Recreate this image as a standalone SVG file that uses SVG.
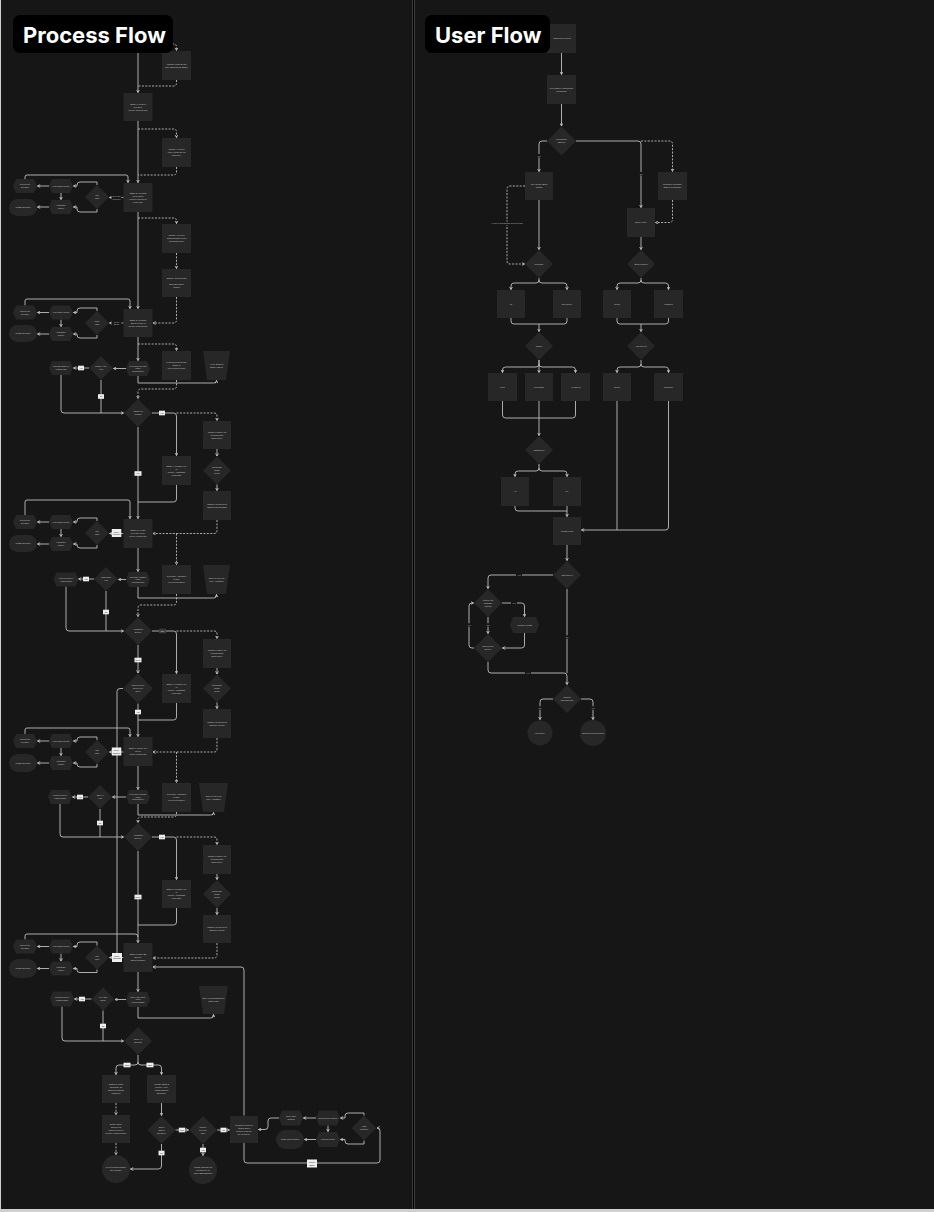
<svg xmlns="http://www.w3.org/2000/svg" width="934" height="1212" viewBox="0 0 934 1212">
<style>
.n{fill:#272727}
.t{font-family:"Liberation Sans",Arial,sans-serif;font-size:2.2px;fill:#c9c9c9;text-anchor:middle}
.s{font-size:1.9px}
.c{fill:none;stroke:#bdbdbd;stroke-width:0.9;marker-end:url(#a)}
.m0{marker-end:none}
.d{stroke-dasharray:2 1.4}
.lb{fill:#eeeeee}
.lt{font-family:"Liberation Sans",Arial,sans-serif;font-size:2px;fill:#111;text-anchor:middle}
.pl{font-family:"Liberation Sans",Arial,sans-serif;font-size:2.1px;fill:#bdbdbd;text-anchor:middle}
.pb{fill:#161616}
.ttl{font-family:Inter,"Liberation Sans",Arial,sans-serif;font-weight:700;font-size:22px;fill:#ffffff}
</style>
<defs>
<marker id="a" viewBox="0 0 6 6" refX="5" refY="3" markerWidth="3.6" markerHeight="3.6" orient="auto" markerUnits="userSpaceOnUse">
<path d="M0.5,0.6 L5,3 L0.5,5.4" fill="none" stroke="#d0d0d0" stroke-width="1.3"/>
</marker>
</defs>
<rect x="0" y="0" width="934" height="1212" fill="#cfcfcf"/>
<rect x="1" y="0" width="411.5" height="1209" fill="#161616"/>
<rect x="412.5" y="0" width="2" height="1209" fill="#000"/>
<rect x="414.5" y="0" width="519.5" height="1209" fill="#161616"/>

<g id="connectors">
<path class="c" d="M138,30 V92.5"/>
<path class="c d" d="M138,44 H173.5 Q176.5,44 176.5,47 V50.5"/>
<path class="c d m0" d="M176.5,80 V83 Q176.5,86 173.5,86 H138"/>
<path class="c" d="M138,121 V182.5"/>
<path class="c d" d="M138,129 H173.5 Q176.5,129 176.5,132 V137.5"/>
<path class="c d m0" d="M176.5,167 V172 Q176.5,175 173.5,175 H138"/>
<path class="c" d="M123.5,197.5 H109.5"/>
<path class="c" d="M97,185 V182 H80 Q77,182 77,185 V186 H73.5"/>
<path class="c" d="M49,186 H37.5"/>
<path class="c" d="M61,193 V199.5"/>
<path class="c" d="M49,207 H37.5"/>
<path class="c" d="M97,209 V212 H80 Q77,212 77,209 V207 H73.5"/>
<path class="c" d="M25,179 V177 Q25,175 27,175 H126 Q128,175 128,177 V182.5"/>
<path class="c" d="M138,212 V308.5"/>
<path class="c d" d="M138,218 H173.5 Q176.5,218 176.5,221 V223.5"/>
<path class="c d" d="M176.5,253 V268.5"/>
<path class="c d" d="M176.5,297 V320 Q176.5,323 173.5,323 H153"/>
<path class="c" d="M123.5,323 H109.5"/>
<path class="c" d="M97,311 V308 H80 Q77,308 77,311 V312.5 H73.5"/>
<path class="c" d="M49,312.5 H37.5"/>
<path class="c" d="M61,319.5 V326.5"/>
<path class="c" d="M49,334 H37.5"/>
<path class="c" d="M97,335 V338 H80 Q77,338 77,335 V334 H73.5"/>
<path class="c" d="M25,305.5 V301 Q25,299 27,299 H128 Q130,299 130,301 V308.5"/>
<path class="c" d="M138,337 V360.5"/>
<path class="c d" d="M138,344 H173.5 Q176.5,344 176.5,347 V350.5"/>
<path class="c" d="M138,376 V383 H213.5 Q216.5,383 216.5,381.5 V380.5"/>
<path class="c d" d="M176.5,380 V386 Q176.5,389 173.5,389 H141 Q138,389 138,392 V398.5"/>
<path class="c" d="M126,368.5 H113.5"/>
<path class="c" d="M89,368 H73.5"/>
<path class="c m0" d="M101,380 V413"/>
<path class="c" d="M61,375 V410 Q61,413 64,413 H123.5"/>
<path class="c" d="M152,413 H173.5 Q176.5,413 176.5,416 V455.5"/>
<path class="c d" d="M176.5,413 H214 Q217,413 217,416 V420.5"/>
<path class="c" d="M217,449 V456"/>
<path class="c" d="M217,484.5 V490.5"/>
<path class="c d" d="M217,520 V530.5 Q217,533.5 214,533.5 H153"/>
<path class="c d" d="M176.5,533.5 V564.5"/>
<path class="c m0" d="M176.5,485 V499 Q176.5,502 173.5,502 H138"/>
<path class="c" d="M138,427 V518.5"/>
<path class="c" d="M123.5,533.5 H109.5"/>
<path class="c" d="M97,521 V518 H80 Q77,518 77,521 V522 H73.5"/>
<path class="c" d="M49,522 H37.5"/>
<path class="c" d="M61,529 V536.5"/>
<path class="c" d="M49,544 H37.5"/>
<path class="c" d="M97,545 V548 H80 Q77,548 77,545 V544 H73.5"/>
<path class="c" d="M25,515 V502 Q25,500 27,500 H128 Q130,500 130,502 V518.5"/>
<path class="c" d="M138,548 V571.5"/>
<path class="c" d="M126,579.5 H118.5"/>
<path class="c" d="M94,579 H78.5"/>
<path class="c m0" d="M106,591 V631"/>
<path class="c" d="M66,586.5 V628 Q66,631 69,631 H123.5"/>
<path class="c" d="M138,587 V598 H213.5 Q216.5,598 216.5,596 V594.5"/>
<path class="c d" d="M176.5,594 V602 Q176.5,605 173.5,605 H141 Q138,605 138,608 V616.5"/>
<path class="c" d="M152,631 H173.5 Q176.5,631 176.5,634 V673.5"/>
<path class="c d" d="M176.5,631 H214 Q217,631 217,634 V638.5"/>
<path class="c" d="M217,668 V674"/>
<path class="c" d="M217,702.5 V708.5"/>
<path class="c d" d="M217,738 V749 Q217,752 214,752 H153"/>
<path class="c d" d="M176.5,752 V782.5"/>
<path class="c m0" d="M176.5,703 V717 Q176.5,720 173.5,720 H138"/>
<path class="c" d="M138,645 V673"/>
<path class="c" d="M138,703.5 V736.5"/>
<path class="c m0" d="M123,688.5 H120 Q117,688.5 117,691.5 V953"/>
<path class="c" d="M123.5,752 H109.5"/>
<path class="c" d="M97,740 V737 H80 Q77,737 77,740 V741 H73.5"/>
<path class="c" d="M49,741 H37.5"/>
<path class="c" d="M61,748 V755.5"/>
<path class="c" d="M49,763 H37.5"/>
<path class="c" d="M97,764 V767 H80 Q77,767 77,764 V763 H73.5"/>
<path class="c" d="M25,734 V730 Q25,728 27,728 H128 Q130,728 130,730 V736.5"/>
<path class="c" d="M138,766 V789.5"/>
<path class="c" d="M126,797 H112.5"/>
<path class="c" d="M88,797 H72.5"/>
<path class="c m0" d="M100,809 V837"/>
<path class="c" d="M60,804 V834 Q60,837 63,837 H123.5"/>
<path class="c" d="M138,804 V815 H210.5 Q213.5,815 213.5,813.5 V812.5"/>
<path class="c d" d="M176.5,812 V814 Q176.5,817 173.5,817 H141 Q138,817 138,819.5 V822.5"/>
<path class="c" d="M152,837 H173.5 Q176.5,837 176.5,840 V879.5"/>
<path class="c d" d="M176.5,837 H214 Q217,837 217,840 V844.5"/>
<path class="c" d="M217,874 V879.5"/>
<path class="c" d="M217,908 V914.5"/>
<path class="c d" d="M217,943 V955 Q217,958 214,958 H153"/>
<path class="c m0" d="M176.5,908 V922 Q176.5,925 173.5,925 H138"/>
<path class="c" d="M138,851 V942.5"/>
<path class="c" d="M123.5,957.5 H109.5"/>
<path class="c" d="M97,945.5 V942 H80 Q77,942 77,945 V946.5 H73.5"/>
<path class="c" d="M49,946.5 H37.5"/>
<path class="c" d="M61,953.5 V961"/>
<path class="c" d="M49,968.5 H37.5"/>
<path class="c" d="M97,969.5 V972.5 H80 Q77,972.5 77,970 V968.5 H73.5"/>
<path class="c m0" d="M25,939.5 V936 Q25,934 27,934 H135 Q138,934 138,937"/>
<path class="c" d="M244,1115.5 V970 Q244,967 241,967 H153"/>
<path class="c" d="M138,972 V991.5"/>
<path class="c" d="M126,999.5 H115"/>
<path class="c" d="M91.5,999 H74.5"/>
<path class="c m0" d="M103,1010.5 V1041"/>
<path class="c" d="M62,1006.5 V1038 Q62,1041 65,1041 H123.5"/>
<path class="c" d="M138,1007 V1018 H210.5 Q213.5,1018 213.5,1016 V1014.5"/>
<path class="c" d="M138,1055 V1062 Q138,1065 135,1065 H119 Q116,1065 116,1068 V1074.5"/>
<path class="c" d="M138,1062 Q138,1065 141,1065 H158.5 Q161.5,1065 161.5,1068 V1074.5"/>
<path class="c d" d="M116,1103 V1114.5"/>
<path class="c d" d="M116,1143 V1154.5"/>
<path class="c" d="M161.5,1103 V1115.5"/>
<path class="c" d="M161.5,1144 V1166 Q161.5,1169 158.5,1169 H130.5"/>
<path class="c" d="M175.5,1130 H188.5"/>
<path class="c" d="M203,1144 V1155.5"/>
<path class="c" d="M217,1130 H229.5"/>
<path class="c" d="M244,1143 V1160 Q244,1163 247,1163 H377 Q380,1163 380,1160 V1131 Q380,1128 377.5,1128 H377"/>
<path class="c" d="M364,1115.5 V1113 H348 Q345,1113 345,1116 V1118 H340.5"/>
<path class="c" d="M364,1140.5 V1144 H348 Q345,1144 345,1141 V1139.5 H340.5"/>
<path class="c" d="M328,1125.5 V1131.5"/>
<path class="c" d="M316,1118 H303.5"/>
<path class="c" d="M316,1139.5 H304.5"/>
<path class="c" d="M279,1118 H271 Q268,1118 268,1121 V1126.5 Q268,1129.5 265,1129.5 H258.5"/>

<path class="c" d="M561.5,53 V74.5"/>
<path class="c" d="M561.5,104 V126"/>
<path class="c" d="M547,141 H542 Q539,141 539,144 V171.5"/>
<path class="c" d="M576,141 H638 Q641,141 641,144 V207.5"/>
<path class="c d" d="M641,141 H669.5 Q672.5,141 672.5,144 V171.5"/>
<path class="c d" d="M672.5,200 V219.5 Q672.5,222.5 669.5,222.5 H655.5"/>
<path class="c d" d="M525,186 H510 Q507,186 507,189 V261 Q507,264 510,264 H524.5"/>
<path class="c" d="M539,200 V249.5"/>
<path class="c" d="M641,237 V249.5"/>
<path class="c" d="M539,278 V280 Q539,283 536,283 H514 Q511,283 511,286 V289.5"/>
<path class="c" d="M539,280 Q539,283 542,283 H564 Q567,283 567,286 V289.5"/>
<path class="c" d="M641,278 V280 Q641,283 638,283 H620 Q617,283 617,286 V289.5"/>
<path class="c" d="M641,280 Q641,283 644,283 H665.5 Q668.5,283 668.5,286 V289.5"/>
<path class="c m0" d="M511,318 V321 Q511,324 514,324 H564 Q567,324 567,321 V318"/>
<path class="c" d="M539,324 V331.5"/>
<path class="c m0" d="M617,318 V321 Q617,324 620,324 H665.5 Q668.5,324 668.5,321 V318"/>
<path class="c" d="M641,324 V331.5"/>
<path class="c" d="M539,360 V364 Q539,367 536,367 H505.5 Q502.5,367 502.5,370 V372.5"/>
<path class="c" d="M539,360 V372.5"/>
<path class="c" d="M539,364 Q539,367 542,367 H572.5 Q575.5,367 575.5,370 V372.5"/>
<path class="c" d="M641,360 V364 Q641,367 638,367 H620 Q617,367 617,370 V372.5"/>
<path class="c" d="M641,364 Q641,367 644,367 H665.5 Q668.5,367 668.5,370 V372.5"/>
<path class="c m0" d="M502.5,401 V415 Q502.5,418 505.5,418 H572.5 Q575.5,418 575.5,415 V401"/>
<path class="c" d="M539,401 V435.5"/>
<path class="c" d="M539,464 V468 Q539,471 536,471 H518 Q515,471 515,474 V476.5"/>
<path class="c" d="M539,468 Q539,471 542,471 H564 Q567,471 567,474 V476.5"/>
<path class="c m0" d="M515,506 V508 Q515,511 518,511 H567"/>
<path class="c" d="M567,506 V516.5"/>
<path class="c m0" d="M617,401 V530"/>
<path class="c" d="M668.5,401 V527 Q668.5,530 665.5,530 H581.5"/>
<path class="c" d="M567,545 V560.5"/>
<path class="c" d="M553,575 H491 Q488,575 488,578 V588.5"/>
<path class="c" d="M502,603 H521.5 Q524.5,603 524.5,606 V616.5"/>
<path class="c" d="M488,617 V633.5"/>
<path class="c" d="M524.5,633 V645 Q524.5,648 521.5,648 H502.5"/>
<path class="c" d="M474,648 H472 Q469,648 469,645 V606 Q469,603 472,603 H473.5"/>
<path class="c" d="M488,662 V670 Q488,673 491,673 H564 Q567,673 567,676 V684.5"/>
<path class="c m0" d="M567,589 V673"/>
<path class="c" d="M553,699 H543 Q540,699 540,702 V719.5"/>
<path class="c" d="M581,699 H590 Q593,699 593,702 V719.5"/>

<g id="connector-labels">
<rect class="pb" x="111.5" y="194.2" width="10" height="6.6"/>
<text class="pl" x="116.5" y="197"><tspan x="116.5">Retry Err</tspan><tspan x="116.5" dy="2.6">Success</tspan></text>
<rect class="pb" x="111.5" y="319.8" width="10" height="6.6"/>
<text class="pl" x="116.5" y="322.6"><tspan x="116.5">Retry</tspan><tspan x="116.5" dy="2.6">Errors</tspan></text>
<rect class="lb" x="78" y="365.7" width="6" height="4.6"/><text class="lt" x="81" y="368.7">Yes</text>
<rect class="lb" x="98" y="394.2" width="6" height="4.6"/><text class="lt" x="101" y="397.2">No</text>
<rect class="lb" x="159" y="410.7" width="6" height="4.6"/><text class="lt" x="162" y="413.7">Yes</text>
<rect class="lb" x="134.5" y="471.2" width="7" height="4.6"/><text class="lt" x="138" y="474.2">Fail</text>
<rect class="lb" x="111.8" y="529" width="9.5" height="8"/><text class="lt" x="116.5" y="532.5"><tspan x="116.5">Retry/</tspan><tspan x="116.5" dy="2.5">Resolve</tspan></text>
<rect class="lb" x="83" y="576.7" width="6" height="4.6"/><text class="lt" x="86" y="579.7">Yes</text>
<rect class="lb" x="103" y="609.7" width="6" height="4.6"/><text class="lt" x="106" y="612.7">No</text>
<rect x="159" y="628.7" width="7" height="4.6" fill="#3c3c3c"/><text class="lt" x="162.5" y="631.7" style="fill:#dddddd">Edit</text>
<rect class="lb" x="134.5" y="657.7" width="7" height="4.6"/><text class="lt" x="138" y="660.7">Done</text>
<rect class="lb" x="135" y="709.7" width="6" height="4.6"/><text class="lt" x="138" y="712.7">Yes</text>
<rect class="lb" x="111.8" y="747.5" width="9.5" height="8"/><text class="lt" x="116.5" y="751"><tspan x="116.5">Retry/</tspan><tspan x="116.5" dy="2.5">Resolve</tspan></text>
<rect class="lb" x="77" y="794.7" width="6" height="4.6"/><text class="lt" x="80" y="797.7">Yes</text>
<rect class="lb" x="97" y="820.7" width="6" height="4.6"/><text class="lt" x="100" y="823.7">No</text>
<rect class="lb" x="159" y="834.7" width="6" height="4.6"/><text class="lt" x="162" y="837.7">Yes</text>
<rect class="lb" x="134.5" y="894.7" width="7" height="4.6"/><text class="lt" x="138" y="897.7">Done</text>
<rect class="lb" x="112" y="953" width="10" height="9"/><text class="lt" x="117" y="956.8"><tspan x="117">Retry/</tspan><tspan x="117" dy="2.6">Success</tspan></text>
<rect class="lb" x="79" y="996.7" width="6" height="4.6"/><text class="lt" x="82" y="999.7">Yes</text>
<rect class="lb" x="100" y="1023.7" width="6" height="4.6"/><text class="lt" x="103" y="1026.7">No</text>
<rect class="lb" x="123.5" y="1062.7" width="7" height="4.6"/><text class="lt" x="127" y="1065.7">Data</text>
<rect class="lb" x="146.5" y="1062.7" width="7" height="4.6"/><text class="lt" x="150" y="1065.7">Edit</text>
<rect class="lb" x="158.5" y="1150.7" width="6" height="4.6"/><text class="lt" x="161.5" y="1153.7">No</text>
<rect class="lb" x="178.8" y="1127.7" width="6.5" height="4.6"/><text class="lt" x="182" y="1130.7">Next</text>
<rect class="lb" x="200" y="1147.7" width="6" height="4.6"/><text class="lt" x="203" y="1150.7">Yes</text>
<rect class="lb" x="220.5" y="1127.7" width="6" height="4.6"/><text class="lt" x="223.5" y="1130.7">No</text>
<rect class="lb" x="307" y="1159.5" width="10" height="8"/><text class="lt" x="312" y="1163"><tspan x="312">Return</tspan><tspan x="312" dy="2.5">Editor</tspan></text>

<rect class="pb" x="536" y="154" width="6" height="3.4"/><text class="pl" x="539" y="156.6">Yes</text>
<rect class="pb" x="638" y="172" width="6" height="3.4"/><text class="pl" x="641" y="174.6">No</text>
<rect class="pb" x="491" y="221.6" width="32" height="3.4"/><text class="pl" x="507" y="224.2">Hi Use a design/Edit presets team</text>
<rect class="pb" x="516" y="573.3" width="6" height="3.4"/><text class="pl" x="519" y="575.9">Yes</text>
<rect class="pb" x="511" y="601.3" width="6" height="3.4"/><text class="pl" x="514" y="603.9">Yes</text>
<rect class="pb" x="485" y="623.3" width="6" height="3.4"/><text class="pl" x="488" y="625.9">No</text>
<rect class="pb" x="466" y="623.3" width="6" height="3.4"/><text class="pl" x="469" y="625.9">Yes</text>
<rect class="pb" x="525" y="671.3" width="6" height="3.4"/><text class="pl" x="528" y="673.9">Yes</text>
<rect class="pb" x="564" y="635.3" width="6" height="3.4"/><text class="pl" x="567" y="637.9">No</text>
<rect class="pb" x="537" y="706.3" width="6" height="3.4"/><text class="pl" x="540" y="708.9">No</text>
<rect class="pb" x="590" y="706.3" width="6" height="3.4"/><text class="pl" x="593" y="708.9">Yes</text>
</g>
</g>

<g id="n1"><rect class="n" x="162" y="51" width="29" height="29"/><text class="t" x="176.5" y="64.8"><tspan x="176.5">Validate Login Detail</tspan><tspan x="176.5" dy="3">(User Enrollment Stage)</tspan></text></g>
<g id="s1"><rect class="n" x="123.5" y="93" width="29" height="28"/><text class="t" x="138" y="104.8"><tspan x="138">Stage 1: Project</tspan><tspan x="138" dy="3">Creation</tspan><tspan x="138" dy="3">(Model Input SVGs)</tspan></text></g>
<g id="n2"><rect class="n" x="162" y="138" width="29" height="29"/><text class="t" x="176.5" y="150.3"><tspan x="176.5">Update Api Field</tspan><tspan x="176.5" dy="3">(User Progress via</tspan><tspan x="176.5" dy="3">Timeline)</tspan></text></g>
<g id="s2"><rect class="n" x="123.5" y="183" width="29" height="29"/><text class="t" x="138" y="193.8"><tspan x="138">Stage 2: Gemma</tspan><tspan x="138" dy="3">Generation</tspan><tspan x="138" dy="3">(Model Load SVG</tspan><tspan x="138" dy="3">Logo Info)</tspan></text></g>
<g id="d1"><polygon class="n" points="97,185 109,197 97,209 85,197"/><text class="t" x="97" y="196.3"><tspan x="97">Crit</tspan><tspan x="97" dy="3">valid</tspan></text></g>
<g id="h1"><polygon class="n" points="49,186 52,179 70,179 73,186 70,193 52,193"/><text class="t s" x="61" y="186.7">Lost Hidden Report</text></g>
<g id="r1"><polygon class="n" points="13,186 16,179 34,179 37,186 34,193 16,193"/><text class="t s" x="25" y="185.4"><tspan x="25">Recover the</tspan><tspan x="25" dy="2.7">'Dynamic'</tspan></text></g>
<g id="h2"><polygon class="n" points="49,207 52,200 70,200 73,207 70,214 52,214"/><text class="t s" x="61" y="206.4"><tspan x="61">Lost Editor</tspan><tspan x="61" dy="2.7">'Cancel'</tspan></text></g>
<g id="p1"><rect class="n" x="9" y="199" width="28" height="17" rx="8.5"/><text class="t s" x="23" y="208.2">Restart Operation</text></g>
<g id="n3"><rect class="n" x="162" y="224" width="29" height="29"/><text class="t" x="176.5" y="236.3"><tspan x="176.5">Update Api Field</tspan><tspan x="176.5" dy="3">(Tags Changes from</tspan><tspan x="176.5" dy="3">Gemma/Model)</tspan></text></g>
<g id="n4"><rect class="n" x="162" y="269" width="29" height="28"/><text class="t" x="176.5" y="279.3"><tspan x="176.5">Display Tool Results</tspan><tspan x="176.5" dy="6">Build Elevation</tspan><tspan x="176.5" dy="3">Output</tspan></text></g>
<g id="s3"><rect class="n" x="123.5" y="309" width="29" height="28"/><text class="t" x="138" y="320.8"><tspan x="138">Stage 3: Gemma</tspan><tspan x="138" dy="3">Stroke Model 2</tspan><tspan x="138" dy="3">(Model Load SVGs)</tspan></text></g>
<g id="d2"><polygon class="n" points="97,311 109,323 97,335 85,323"/><text class="t" x="97" y="322.3"><tspan x="97">Input</tspan><tspan x="97" dy="3">Valid</tspan></text></g>
<g id="r2"><polygon class="n" points="13,312.5 16,305.5 34,305.5 37,312.5 34,319.5 16,319.5"/><text class="t s" x="25" y="311.9"><tspan x="25">Recover the</tspan><tspan x="25" dy="2.7">'Dynamic'</tspan></text></g>
<g id="h3"><polygon class="n" points="49,312.5 52,305.5 70,305.5 73,312.5 70,319.5 52,319.5"/><text class="t s" x="61" y="313.2">Lost Hidden Report</text></g>
<g id="h4"><polygon class="n" points="49,334 52,327 70,327 73,334 70,341 52,341"/><text class="t s" x="61" y="333.4"><tspan x="61">Lost Editor</tspan><tspan x="61" dy="2.7">'Cancel'</tspan></text></g>
<g id="p2"><rect class="n" x="9" y="325" width="28" height="17" rx="8.5"/><text class="t s" x="23" y="334.2">Restart Operation</text></g>
<g id="g1"><polygon class="n" points="126,368.5 129,361 147,361 150,368.5 147,376 129,376"/><text class="t s" x="138" y="366.6"><tspan x="138">Fixed Ring Proximity</tspan><tspan x="138" dy="2.6">Model</tspan><tspan x="138" dy="2.6">(Gemma/Gen)</tspan></text></g>
<g id="n5"><rect class="n" x="162" y="351" width="29" height="29"/><text class="t" x="176.5" y="363.3"><tspan x="176.5">Load SVG Elements</tspan><tspan x="176.5" dy="3">Stage &amp;</tspan><tspan x="176.5" dy="3">Preview/Generate</tspan></text></g>
<g id="t1"><polygon class="n" points="203,351 230,351 226,380 207,380"/><text class="t" x="216.5" y="364.8"><tspan x="216.5">Verify Shapes</tspan><tspan x="216.5" dy="3">Stage Labels</tspan></text></g>
<g id="d4"><polygon class="n" points="101,356 113,368 101,380 89,368"/><text class="t" x="101" y="367.3"><tspan x="101">Frame Alive</tspan><tspan x="101" dy="3">Yet?</tspan></text></g>
<g id="g2"><polygon class="n" points="49,368 52,361 70,361 73,368 70,375 52,375"/><text class="t s" x="61" y="367.4"><tspan x="61">Generate Editor on</tspan><tspan x="61" dy="2.7">existing page</tspan></text></g>
<g id="d3"><polygon class="n" points="138,399 152,413 138,427 124,413"/><text class="t" x="138" y="412.3"><tspan x="138">Outline fit</tspan><tspan x="138" dy="3">Finish?</tspan></text></g>
<g id="n6"><rect class="n" x="162" y="456" width="29" height="29"/><text class="t" x="176.5" y="466.8"><tspan x="176.5">Stage 4 (Feature Fix</tspan><tspan x="176.5" dy="3">or</tspan><tspan x="176.5" dy="3">Modify Adjust/Edit</tspan><tspan x="176.5" dy="3">Logic Etc)</tspan></text></g>
<g id="n7"><rect class="n" x="203" y="421" width="28" height="28"/><text class="t" x="217" y="432.8"><tspan x="217">Update Feature via</tspan><tspan x="217" dy="3">Typing/Lasso</tspan><tspan x="217" dy="3">(Edit Mode)</tspan></text></g>
<g id="d5"><polygon class="n" points="217,456.5 231,470.5 217,484.5 203,470.5"/><text class="t" x="217" y="468.3"><tspan x="217">Success?</tspan><tspan x="217" dy="3">Image</tspan><tspan x="217" dy="3">Mod?</tspan></text></g>
<g id="n8"><rect class="n" x="203" y="491" width="28" height="29"/><text class="t" x="217" y="504.8"><tspan x="217">Capture Refinement</tspan><tspan x="217" dy="3">Strategy/Result Edit</tspan></text></g>
<g id="n9"><rect class="n" x="162" y="565" width="29" height="29"/><text class="t" x="176.5" y="577.3"><tspan x="176.5">Generate Animation</tspan><tspan x="176.5" dy="3">Frame</tspan><tspan x="176.5" dy="3">(Pen Generation)</tspan></text></g>
<g id="s5"><rect class="n" x="123.5" y="519" width="29" height="29"/><text class="t" x="138" y="531.3"><tspan x="138">Stage 5 (Vector</tspan><tspan x="138" dy="3">Pen Tool Gen)</tspan><tspan x="138" dy="3">Model Load/Lottie</tspan></text></g>
<g id="d6"><polygon class="n" points="97,521 109,533 97,545 85,533"/><text class="t" x="97" y="532.3"><tspan x="97">Crit</tspan><tspan x="97" dy="3">valid</tspan></text></g>
<g id="r3"><polygon class="n" points="13,522 16,515 34,515 37,522 34,529 16,529"/><text class="t s" x="25" y="521.4"><tspan x="25">Recover the</tspan><tspan x="25" dy="2.7">'Dynamic'</tspan></text></g>
<g id="h5"><polygon class="n" points="49,522 52,515 70,515 73,522 70,529 52,529"/><text class="t s" x="61" y="522.7">Lost Hidden Report</text></g>
<g id="h6"><polygon class="n" points="49,544 52,537 70,537 73,544 70,551 52,551"/><text class="t s" x="61" y="543.4"><tspan x="61">Lost Editor</tspan><tspan x="61" dy="2.7">'Cancel'</tspan></text></g>
<g id="p3"><rect class="n" x="9" y="535" width="28" height="17" rx="8.5"/><text class="t s" x="23" y="544.2">Restart Operation</text></g>
<g id="g3"><polygon class="n" points="126,579.5 129,572 147,572 150,579.5 147,587 129,587"/><text class="t s" x="138" y="577.6"><tspan x="138">Generate Animation</tspan><tspan x="138" dy="2.6">Model</tspan><tspan x="138" dy="2.6">(Gemma/Lottie)</tspan></text></g>
<g id="d7"><polygon class="n" points="106,567 118,579 106,591 94,579"/><text class="t" x="106" y="578.3"><tspan x="106">Can't Stop</tspan><tspan x="106" dy="3">yet?</tspan></text></g>
<g id="g4"><polygon class="n" points="53.5,579.5 56.5,572.5 75.5,572.5 78.5,579.5 75.5,586.5 56.5,586.5"/><text class="t s" x="66" y="578.9"><tspan x="66">Lock Preview on</tspan><tspan x="66" dy="2.7">existing frame</tspan></text></g>
<g id="t2"><polygon class="n" points="203,565 230,565 226,594 207,594"/><text class="t" x="216.5" y="578.8"><tspan x="216.5">Save &amp; Preview</tspan><tspan x="216.5" dy="3">Play Animation</tspan></text></g>
<g id="d8"><polygon class="n" points="138,617 152,631 138,645 124,631"/><text class="t" x="138" y="630.3"><tspan x="138">Animation</tspan><tspan x="138" dy="3">Done?</tspan></text></g>
<g id="n10"><rect class="n" x="162" y="674" width="29" height="29"/><text class="t" x="176.5" y="684.8"><tspan x="176.5">Stage 7 (Feature Fix</tspan><tspan x="176.5" dy="3">or</tspan><tspan x="176.5" dy="3">Modify Adjust/Edit</tspan><tspan x="176.5" dy="3">Logic Etc)</tspan></text></g>
<g id="n11"><rect class="n" x="203" y="639" width="28" height="29"/><text class="t" x="217" y="651.3"><tspan x="217">Update Feature via</tspan><tspan x="217" dy="3">Typing/Lasso</tspan><tspan x="217" dy="3">(Edit Mode)</tspan></text></g>
<g id="d9"><polygon class="n" points="217,674.5 231,688.5 217,702.5 203,688.5"/><text class="t" x="217" y="686.3"><tspan x="217">Success?</tspan><tspan x="217" dy="3">Image</tspan><tspan x="217" dy="3">Mod?</tspan></text></g>
<g id="n12"><rect class="n" x="203" y="709" width="28" height="29"/><text class="t" x="217" y="722.8"><tspan x="217">Capture Refinement</tspan><tspan x="217" dy="3">Strategy Result</tspan></text></g>
<g id="n13"><rect class="n" x="162" y="783" width="29" height="29"/><text class="t" x="176.5" y="795.3"><tspan x="176.5">Generate Animation</tspan><tspan x="176.5" dy="3">Frame</tspan><tspan x="176.5" dy="3">(Pen Generation)</tspan></text></g>
<g id="d10"><polygon class="n" points="138,673.5 153,688.5 138,703.5 123,688.5"/><text class="t" x="138" y="686.3"><tspan x="138">Object Layer</tspan><tspan x="138" dy="3">Done? Fix</tspan><tspan x="138" dy="3">lift UI</tspan></text></g>
<g id="s6"><rect class="n" x="123.5" y="737" width="29" height="29"/><text class="t" x="138" y="749.3"><tspan x="138">Stage 6 (Layer Fix)</tspan><tspan x="138" dy="3">Model</tspan><tspan x="138" dy="3">Model Load/Lottie</tspan></text></g>
<g id="r4"><polygon class="n" points="13,741 16,734 34,734 37,741 34,748 16,748"/><text class="t s" x="25" y="740.4"><tspan x="25">Recover the</tspan><tspan x="25" dy="2.7">'Dynamic'</tspan></text></g>
<g id="h7"><polygon class="n" points="49,741 52,734 70,734 73,741 70,748 52,748"/><text class="t s" x="61" y="741.7">Lost Hidden Report</text></g>
<g id="d11"><polygon class="n" points="97,740 109,752 97,764 85,752"/><text class="t" x="97" y="751.3"><tspan x="97">Crit</tspan><tspan x="97" dy="3">valid</tspan></text></g>
<g id="h8"><polygon class="n" points="49,763 52,756 70,756 73,763 70,770 52,770"/><text class="t s" x="61" y="762.4"><tspan x="61">Lost Editor</tspan><tspan x="61" dy="2.7">'Cancel'</tspan></text></g>
<g id="p4"><rect class="n" x="9" y="754" width="28" height="18" rx="9"/><text class="t s" x="23" y="763.7">Restart Operation</text></g>
<g id="g5"><polygon class="n" points="126,797 129,790 147,790 150,797 147,804 129,804"/><text class="t s" x="138" y="795.1"><tspan x="138">Fixed Ring Proximity</tspan><tspan x="138" dy="2.6">Model</tspan><tspan x="138" dy="2.6">(Gemma/Gen)</tspan></text></g>
<g id="d12"><polygon class="n" points="100,785 112,797 100,809 88,797"/><text class="t" x="100" y="796.3"><tspan x="100">Save it</tspan><tspan x="100" dy="3">yet?</tspan></text></g>
<g id="g6"><polygon class="n" points="48,797 51,790 69,790 72,797 69,804 51,804"/><text class="t s" x="60" y="796.4"><tspan x="60">Load preview on</tspan><tspan x="60" dy="2.7">existing pages</tspan></text></g>
<g id="t3"><polygon class="n" points="199,783 228,783 224,812 203,812"/><text class="t" x="213.5" y="796.8"><tspan x="213.5">Save &amp; Preview</tspan><tspan x="213.5" dy="3">Play Animation</tspan></text></g>
<g id="d13"><polygon class="n" points="138,823 152,837 138,851 124,837"/><text class="t" x="138" y="836.3"><tspan x="138">Animation</tspan><tspan x="138" dy="3">Done?</tspan></text></g>
<g id="n14"><rect class="n" x="162" y="880" width="29" height="28"/><text class="t" x="176.5" y="890.3"><tspan x="176.5">Stage 8 (Feature Fix</tspan><tspan x="176.5" dy="3">or</tspan><tspan x="176.5" dy="3">Modify Adjust/Edit</tspan><tspan x="176.5" dy="3">Logic Etc)</tspan></text></g>
<g id="n15"><rect class="n" x="203" y="845" width="28" height="29"/><text class="t" x="217" y="857.3"><tspan x="217">Update Feature via</tspan><tspan x="217" dy="3">Typing/Lasso</tspan><tspan x="217" dy="3">(Edit Mode)</tspan></text></g>
<g id="d14"><polygon class="n" points="217,880 231,894 217,908 203,894"/><text class="t" x="217" y="891.8"><tspan x="217">Success?</tspan><tspan x="217" dy="3">Image</tspan><tspan x="217" dy="3">Mod?</tspan></text></g>
<g id="n16"><rect class="n" x="203" y="915" width="28" height="28"/><text class="t" x="217" y="928.3"><tspan x="217">Capture Refinement</tspan><tspan x="217" dy="3">Strategy Result</tspan></text></g>
<g id="s8"><rect class="n" x="123.5" y="943" width="29" height="29"/><text class="t" x="138" y="955.3"><tspan x="138">Stage 8 (Edit, 3D</tspan><tspan x="138" dy="3">Export,</tspan><tspan x="138" dy="3">Share/Publish)</tspan></text></g>
<g id="r5"><polygon class="n" points="13,946.5 16,939.5 34,939.5 37,946.5 34,953.5 16,953.5"/><text class="t s" x="25" y="945.9"><tspan x="25">Recover the</tspan><tspan x="25" dy="2.7">'Dynamic'</tspan></text></g>
<g id="h9"><polygon class="n" points="49,946.5 52,939.5 70,939.5 73,946.5 70,953.5 52,953.5"/><text class="t s" x="61" y="947.2">Lost Hidden Report</text></g>
<g id="d15"><polygon class="n" points="97,945.5 109,957.5 97,969.5 85,957.5"/><text class="t" x="97" y="956.8"><tspan x="97">Crit</tspan><tspan x="97" dy="3">valid</tspan></text></g>
<g id="h10"><polygon class="n" points="49,968.5 52,961.5 70,961.5 73,968.5 70,975.5 52,975.5"/><text class="t s" x="61" y="967.9"><tspan x="61">Lost Editor</tspan><tspan x="61" dy="2.7">'Cancel'</tspan></text></g>
<g id="p5"><rect class="n" x="9" y="959" width="28" height="19" rx="9.5"/><text class="t s" x="23" y="969.2">Restart Operation</text></g>
<g id="g7"><polygon class="n" points="126,999.5 129,992 147,992 150,999.5 147,1007 129,1007"/><text class="t s" x="138" y="997.6"><tspan x="138">Open Hist/Activity</tspan><tspan x="138" dy="2.6">Model</tspan><tspan x="138" dy="2.6">(Gen/Load/Edit)</tspan></text></g>
<g id="d16"><polygon class="n" points="103,987.5 114.5,999 103,1010.5 91.5,999"/><text class="t" x="103" y="998.3"><tspan x="103">Ver Valid</tspan><tspan x="103" dy="3">Edit?</tspan></text></g>
<g id="g8"><polygon class="n" points="50,999 53,991.5 71,991.5 74,999 71,1006.5 53,1006.5"/><text class="t s" x="62" y="998.4"><tspan x="62">Load preview on</tspan><tspan x="62" dy="2.7">existing pages</tspan></text></g>
<g id="t4"><polygon class="n" points="199,986 228,986 224,1014 203,1014"/><text class="t" x="213.5" y="999.3"><tspan x="213.5">Save &amp; Publish/Export</tspan><tspan x="213.5" dy="3">Data Pack</tspan></text></g>
<g id="d17"><polygon class="n" points="138,1027 152,1041 138,1055 124,1041"/><text class="t" x="138" y="1040.3"><tspan x="138">Close All</tspan><tspan x="138" dy="3">Export?</tspan></text></g>
<g id="n17"><rect class="n" x="102" y="1075" width="28" height="28"/><text class="t" x="116" y="1085.3"><tspan x="116">Switch to Initial</tspan><tspan x="116" dy="3">Duplicate ad</tspan><tspan x="116" dy="3">(Export Template</tspan><tspan x="116" dy="3">Wrapped)</tspan></text></g>
<g id="n18"><rect class="n" x="147" y="1075" width="29" height="28"/><text class="t" x="161.5" y="1085.3"><tspan x="161.5">Update Stats &amp;</tspan><tspan x="161.5" dy="3">Integer Array</tspan><tspan x="161.5" dy="3">Trigger Edited</tspan><tspan x="161.5" dy="3">Summary</tspan></text></g>
<g id="n19"><rect class="n" x="102" y="1115" width="28" height="28"/><text class="t" x="116" y="1125.3"><tspan x="116">Draft History</tspan><tspan x="116" dy="3">Notes Log</tspan><tspan x="116" dy="3">Input Full Proxy</tspan><tspan x="116" dy="3">Render Image/Frame</tspan></text></g>
<g id="c1"><circle class="n" cx="116" cy="1169" r="14"/><text class="t" x="116" y="1168.3"><tspan x="116">Preview Export/Save</tspan><tspan x="116" dy="3">Ext Visibility</tspan></text></g>
<g id="d18"><polygon class="n" points="161.5,1116 175.5,1130 161.5,1144 147.5,1130"/><text class="t" x="161.5" y="1127.8"><tspan x="161.5">Open</tspan><tspan x="161.5" dy="3">Offline</tspan><tspan x="161.5" dy="3">Ok Study</tspan></text></g>
<g id="d19"><polygon class="n" points="203,1116 217,1130 203,1144 189,1130"/><text class="t" x="203" y="1127.8"><tspan x="203">Unique</tspan><tspan x="203" dy="3">for code</tspan><tspan x="203" dy="3">Ed?</tspan></text></g>
<g id="c2"><circle class="n" cx="203" cy="1170" r="14"/><text class="t" x="203" y="1167.8"><tspan x="203">Update Storage as</tspan><tspan x="203" dy="3">prompt-only to</tspan><tspan x="203" dy="3">Save Batch/Export</tspan></text></g>
<g id="n20"><rect class="n" x="230" y="1116" width="28" height="27"/><text class="t" x="244" y="1125.8"><tspan x="244">Update/Release to</tspan><tspan x="244" dy="3">attach Sales</tspan><tspan x="244" dy="3">System (add file</tspan><tspan x="244" dy="3">for Inventory)</tspan></text></g>
<g id="d20"><polygon class="n" points="364,1115.5 376.5,1128 364,1140.5 351.5,1128"/><text class="t" x="364" y="1127.3"><tspan x="364">Valid</tspan><tspan x="364" dy="3">Update?</tspan></text></g>
<g id="h11"><polygon class="n" points="316,1118 319,1110.5 337,1110.5 340,1118 337,1125.5 319,1125.5"/><text class="t s" x="328" y="1118.7">Check Export 'Paused'</text></g>
<g id="h12"><polygon class="n" points="316,1139.5 319,1132 337,1132 340,1139.5 337,1147 319,1147"/><text class="t s" x="328" y="1140.2">Intercept 'Return'</text></g>
<g id="h13"><polygon class="n" points="279,1118 282,1110.5 300,1110.5 303,1118 300,1125.5 282,1125.5"/><text class="t s" x="291" y="1117.4"><tspan x="291">Open editor</tspan><tspan x="291" dy="2.7">'Settings'</tspan></text></g>
<g id="p6"><rect class="n" x="276" y="1130" width="28" height="19" rx="9.5"/><text class="t s" x="290" y="1140.2">Trigger Save/Location</text></g>

<g id="u1"><rect class="n" x="547" y="24" width="29" height="29"/><text class="t" x="562" y="39.3">Support for Users</text></g>
<g id="u2"><rect class="n" x="547" y="75" width="29" height="29"/><text class="t" x="561.5" y="88.8"><tspan x="561.5">Live Stated Authenticate</tspan><tspan x="561.5" dy="3">Workspace</tspan></text></g>
<g id="ud1"><polygon class="n" points="561.5,126.5 576,141 561.5,155.5 547,141"/><text class="t" x="561.5" y="140.3"><tspan x="561.5">Workspace</tspan><tspan x="561.5" dy="3">Option?</tspan></text></g>
<g id="un1"><rect class="n" x="525" y="172" width="28" height="28"/><text class="t" x="539" y="185.3"><tspan x="539">Use Create Build</tspan><tspan x="539" dy="3">Teams</tspan></text></g>
<g id="un2"><rect class="n" x="658" y="172" width="29" height="28"/><text class="t" x="672.5" y="185.3"><tspan x="672.5">Guidance Template</tspan><tspan x="672.5" dy="3">Stated Workspace</tspan></text></g>
<g id="un3"><rect class="n" x="627" y="208" width="28" height="29"/><text class="t" x="641" y="223.3">Build Home</text></g>
<g id="ud2"><polygon class="n" points="539,250 553,264 539,278 525,264"/><text class="t" x="539" y="264.8">Template</text></g>
<g id="ud3"><polygon class="n" points="641,250 655,264 641,278 627,264"/><text class="t" x="641" y="264.8">Build Prompt</text></g>
<g id="un4"><rect class="n" x="497" y="290" width="28" height="28"/><text class="t" x="511" y="304.8">Fit</text></g>
<g id="un5"><rect class="n" x="553" y="290" width="28" height="28"/><text class="t" x="567" y="304.8">Developer</text></g>
<g id="un6"><rect class="n" x="603" y="290" width="28" height="28"/><text class="t" x="617" y="304.8">Clean</text></g>
<g id="un7"><rect class="n" x="654" y="290" width="29" height="28"/><text class="t" x="668.5" y="304.8">Updated</text></g>
<g id="ud4"><polygon class="n" points="539,332 553,346 539,360 525,346"/><text class="t" x="539" y="346.8">Target</text></g>
<g id="ud5"><polygon class="n" points="641,332 655,346 641,360 627,346"/><text class="t" x="641" y="346.8">Has Layer?</text></g>
<g id="un8"><rect class="n" x="488" y="373" width="29" height="28"/><text class="t" x="502.5" y="387.8">Lock</text></g>
<g id="un9"><rect class="n" x="525" y="373" width="28" height="28"/><text class="t" x="539" y="387.8">Lock Build</text></g>
<g id="un10"><rect class="n" x="561" y="373" width="29" height="28"/><text class="t" x="575.5" y="387.8">Advanced</text></g>
<g id="un11"><rect class="n" x="603" y="373" width="28" height="28"/><text class="t" x="617" y="387.8">Reset</text></g>
<g id="un12"><rect class="n" x="654" y="373" width="29" height="28"/><text class="t" x="668.5" y="387.8">Complete</text></g>
<g id="ud6"><polygon class="n" points="539,436 553,450 539,464 525,450"/><text class="t" x="539" y="450.8">Optimized?</text></g>
<g id="un13"><rect class="n" x="501" y="477" width="28" height="29"/><text class="t" x="515" y="492.3">Aa</text></g>
<g id="un14"><rect class="n" x="553" y="477" width="28" height="29"/><text class="t" x="567" y="492.3">Fix</text></g>
<g id="un15"><rect class="n" x="553" y="517" width="28" height="28"/><text class="t" x="567" y="531.8">Update/Load</text></g>
<g id="ud7"><polygon class="n" points="567,561 581,575 567,589 553,575"/><text class="t" x="567" y="575.8">Last Issue?</text></g>
<g id="ud8"><polygon class="n" points="488,589 502,603 488,617 474,603"/><text class="t" x="488" y="600.8"><tspan x="488">Is there an</tspan><tspan x="488" dy="3">available</tspan><tspan x="488" dy="3">option?</tspan></text></g>
<g id="uh1"><polygon class="n" points="510,625 513,617 536,617 539,625 536,633 513,633"/><text class="t" x="524.5" y="625.8">Update Format</text></g>
<g id="ud9"><polygon class="n" points="488,634 502,648 488,662 474,648"/><text class="t" x="488" y="647.3"><tspan x="488">Succeeded</tspan><tspan x="488" dy="3">Done?</tspan></text></g>
<g id="ud10"><polygon class="n" points="567,685 581,699 567,713 553,699"/><text class="t" x="567" y="698.3"><tspan x="567">Ending</tspan><tspan x="567" dy="3">assessment?</tspan></text></g>
<g id="uc1"><circle class="n" cx="540" cy="733" r="12.5"/><text class="t" x="540" y="733.8">Get Done</text></g>
<g id="uc2"><circle class="n" cx="593" cy="733" r="13"/><text class="t" x="593" y="733.8">Support Conferencing</text></g>

<g id="title-process"><rect x="13" y="15" width="160" height="38" rx="7" fill="#000"/><text class="ttl" x="23" y="42.5">Process Flow</text></g>
<g id="title-user"><rect x="425" y="15" width="125" height="38" rx="7" fill="#000"/><text class="ttl" x="435" y="42.5">User Flow</text></g>
</svg>
